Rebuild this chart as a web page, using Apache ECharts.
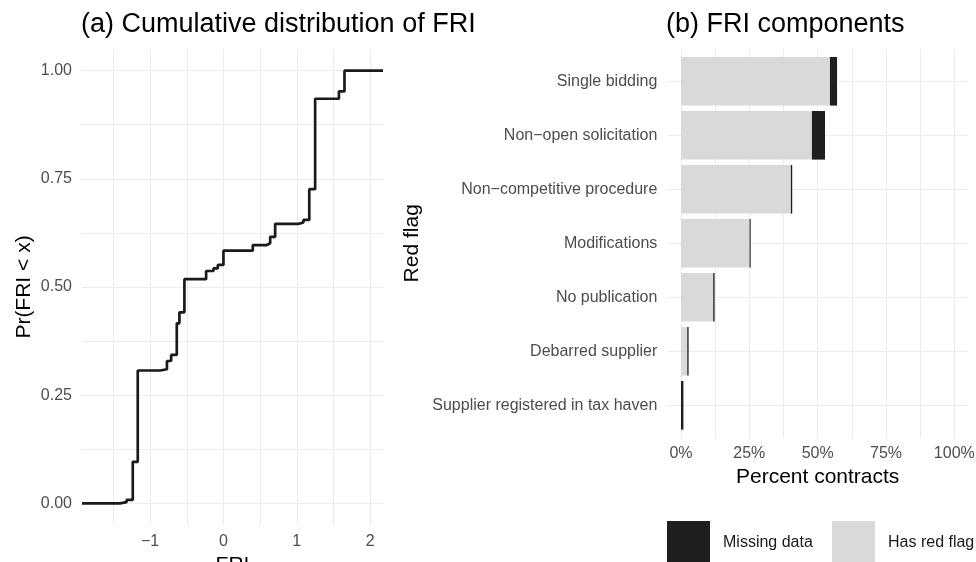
<!DOCTYPE html>
<html><head><meta charset="utf-8">
<script src="https://cdn.jsdelivr.net/npm/echarts@6/dist/echarts.min.js"></script>
<style>html,body{margin:0;padding:0;background:#fff}#c{width:976px;height:562px}</style>
</head><body><div id="c"></div>
<script>
// ECDF of FRI (x where the step occurs, cumulative share after the step)
const friX   = [-1.928, -1.41, -1.32, -1.236, -1.168, -0.864, -0.77, -0.713, -0.636, -0.60, -0.532, -0.236, -0.136, -0.077, 0.0, 0.40, 0.59, 0.637, 0.705, 1.02, 1.09, 1.17, 1.25, 1.574, 1.65, 2.175];
const friCdf = [0, 0.003, 0.008, 0.096, 0.307, 0.310, 0.329, 0.343, 0.416, 0.4415, 0.518, 0.537, 0.543, 0.551, 0.584, 0.597, 0.601, 0.616, 0.646, 0.649, 0.655, 0.726, 0.935, 0.952, 1.0, 1.0];
const friTicks = [-1, 0, 1, 2];
const friGrid = [-1.5, -1, -0.5, 0, 0.5, 1, 1.5, 2];
const probTicks = [0, 0.25, 0.5, 0.75, 1];
const probGrid = [0, 0.125, 0.25, 0.375, 0.5, 0.625, 0.75, 0.875, 1];

// FRI components (percent of contracts)
const categories = ["Single bidding", "Non\u2212open solicitation", "Non\u2212competitive procedure", "Modifications", "No publication", "Debarred supplier", "Supplier registered in tax haven"];
const hasRedFlag = [54.5, 47.9, 40.2, 25.1, 11.8, 2.3, 0.0];
const missingData = [2.6, 4.8, 0.5, 0.4, 0.5, 0.5, 0.9];
const pctTicks = [0, 25, 50, 75, 100];
const pctGrid = [0, 12.5, 25, 37.5, 50, 62.5, 75, 87.5, 100];
const catGrid = [0, 1, 2, 3, 4, 5, 6];

const FONT = "'Liberation Sans', Arial, Helvetica, sans-serif";
const GRIDC = '#ebebeb';
const TICKC = '#4d4d4d';

const chart = echarts.init(document.getElementById('c'), null, {renderer: 'canvas'});
const minusFmt = v => (v < 0 ? '\u2212' + Math.abs(v) : String(v));

chart.setOption({
  animation: false,
  backgroundColor: '#ffffff',
  textStyle: {fontFamily: FONT},
  title: [
    {text: '(a) Cumulative distribution of FRI', left: 81, top: 11, padding: 0,
     textStyle: {fontFamily: FONT, fontSize: 27, fontWeight: 'normal', color: '#000'}},
    {text: '(b) FRI components', left: 666, top: 11, padding: 0,
     textStyle: {fontFamily: FONT, fontSize: 27, fontWeight: 'normal', color: '#000'}}
  ],
  legend: [
    {data: ['Missing data'], left: 667, top: 521, padding: 0, icon: 'rect', itemWidth: 43, itemHeight: 43,
     selectedMode: false, textStyle: {fontFamily: FONT, fontSize: 16, color: '#1a1a1a', padding: [0, 0, 0, 8]}},
    {data: ['Has red flag'], left: 832, top: 521, padding: 0, icon: 'rect', itemWidth: 43, itemHeight: 43,
     selectedMode: false, textStyle: {fontFamily: FONT, fontSize: 16, color: '#1a1a1a', padding: [0, 0, 0, 8]}}
  ],
  grid: [
    {left: 82, top: 49, width: 301, height: 476, containLabel: false, outerBoundsMode: 'none'},
    {left: 667.3, top: 54.3, width: 300.7, height: 378, containLabel: false, outerBoundsMode: 'none'},
    {left: 667.3, top: 49, width: 300.7, height: 388.8, containLabel: false, outerBoundsMode: 'none'}
  ],
  xAxis: [
    {gridIndex: 0, type: 'value', min: -1.928, max: 2.175,
     axisLine: {show: false}, axisTick: {show: false, customValues: friGrid},
     axisLabel: {customValues: friTicks, formatter: minusFmt, margin: 9, fontSize: 16, color: TICKC, fontFamily: FONT},
     splitLine: {show: true, lineStyle: {color: GRIDC, width: 1}},
     name: 'FRI', nameLocation: 'middle', nameGap: 26,
     nameTextStyle: {fontSize: 21, color: '#000', fontFamily: FONT}},
    {gridIndex: 1, type: 'value', min: -5, max: 105, show: false},
    {gridIndex: 2, type: 'value', min: -5, max: 105,
     axisLine: {show: false}, axisTick: {show: false, customValues: pctGrid},
     axisLabel: {customValues: pctTicks, formatter: v => Math.round(v) + '%', margin: 8, fontSize: 16, color: TICKC, fontFamily: FONT},
     splitLine: {show: true, lineStyle: {color: GRIDC, width: 1}},
     name: 'Percent contracts', nameLocation: 'middle', nameGap: 27,
     nameTextStyle: {fontSize: 21, color: '#000', fontFamily: FONT}}
  ],
  yAxis: [
    {gridIndex: 0, type: 'value', min: -0.05, max: 1.05,
     axisLine: {show: false}, axisTick: {show: false, customValues: probGrid},
     axisLabel: {customValues: probTicks, formatter: v => v.toFixed(2), margin: 10, fontSize: 16, color: TICKC, fontFamily: FONT},
     splitLine: {show: true, lineStyle: {color: GRIDC, width: 1}},
     name: 'Pr(FRI < x)', nameLocation: 'middle', nameGap: 47, nameRotate: 90,
     nameTextStyle: {fontSize: 21, color: '#000', fontFamily: FONT}},
    {gridIndex: 1, type: 'category', inverse: true, data: categories,
     axisLine: {show: false}, axisTick: {show: false},
     axisLabel: {margin: 10, fontSize: 16, color: TICKC, fontFamily: FONT},
     splitLine: {show: false},
     name: 'Red flag', nameLocation: 'middle', nameGap: 245, nameRotate: 90,
     nameTextStyle: {fontSize: 21, color: '#000', fontFamily: FONT}},
    {gridIndex: 2, type: 'value', min: -0.6, max: 6.6, inverse: true,
     axisLine: {show: false}, axisTick: {show: false, customValues: catGrid},
     axisLabel: {show: false},
     splitLine: {show: true, lineStyle: {color: GRIDC, width: 1}}}
  ],
  series: [
    {type: 'line', xAxisIndex: 0, yAxisIndex: 0, step: 'end', symbol: 'none', silent: true,
     data: friX.map((x, i) => [x, friCdf[i]]),
     lineStyle: {color: '#1a1a1a', width: 2.7}},
    {type: 'bar', name: 'Has red flag', xAxisIndex: 1, yAxisIndex: 1, stack: 'f',
     barCategoryGap: '10%', data: hasRedFlag, itemStyle: {color: '#d9d9d9'}},
    {type: 'bar', name: 'Missing data', xAxisIndex: 1, yAxisIndex: 1, stack: 'f',
     barCategoryGap: '10%', data: missingData, itemStyle: {color: '#1f1f1f'}}
  ]
});
</script>
</body></html>
